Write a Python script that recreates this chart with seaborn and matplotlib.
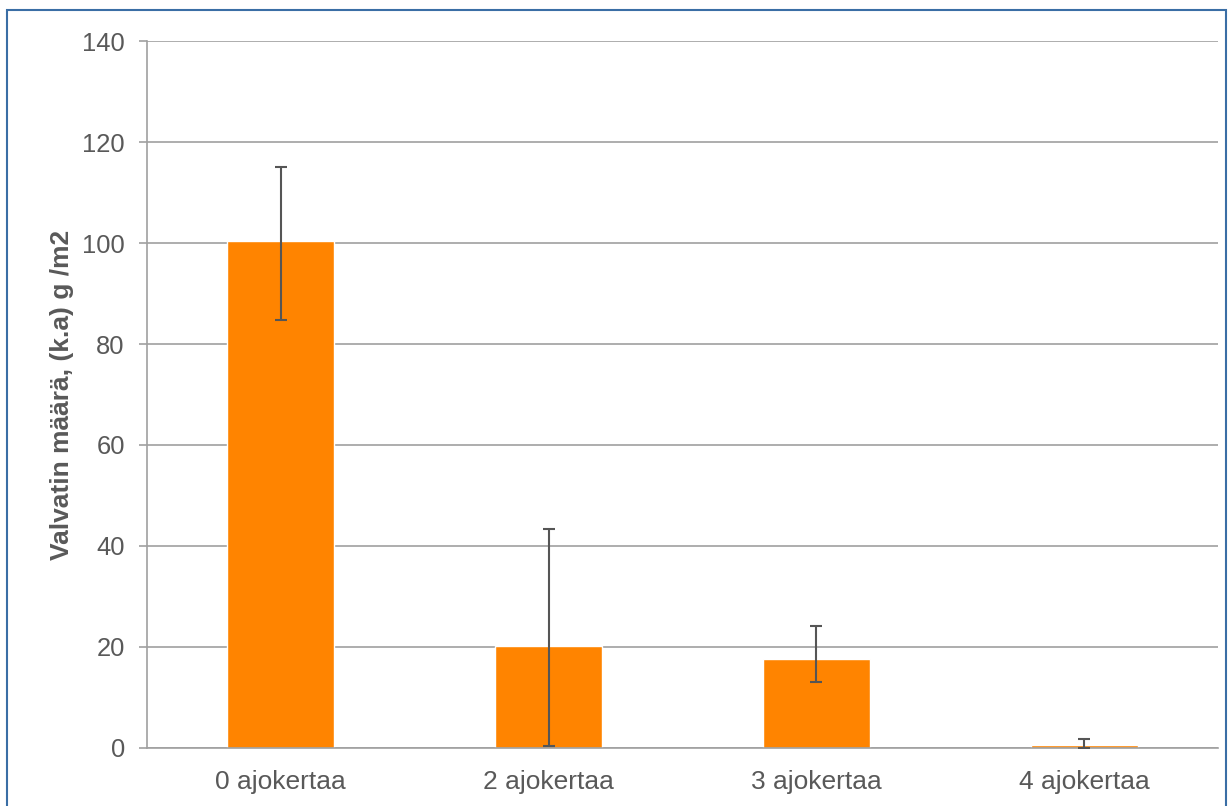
import pandas as pd
import matplotlib.pyplot as plt
import seaborn as sns
from matplotlib.patches import Rectangle

# data
categories = ['0 ajokertaa', '2 ajokertaa', '3 ajokertaa', '4 ajokertaa']
values = [100.3, 20.1, 17.6, 0.6]
err_low = [15.5, 19.7, 4.5, 0.6]
err_high = [14.7, 23.2, 6.6, 1.1]
y_ticks = [0, 20, 40, 60, 80, 100, 120, 140]

df = pd.DataFrame({'cat': categories, 'val': values})

sns.set_style('white')
plt.rcParams['font.family'] = ['Liberation Sans', 'DejaVu Sans']

fig = plt.figure(figsize=(12.32, 8.06), dpi=100)
ax = fig.add_axes([0.1193, 0.072, 0.8693, 0.8771])

sns.barplot(data=df, x='cat', y='val', color='#FF8400', width=0.4,
            saturation=1, errorbar=None, ax=ax, zorder=2)
ax.errorbar(range(len(values)), values, yerr=[err_low, err_high], fmt='none',
            ecolor='#555555', elinewidth=1.5, capsize=4.3, capthick=1.5, zorder=3)

ax.set_xlim(-0.5, len(categories) - 0.5)
ax.set_ylim(0, 140)
ax.set_yticks(y_ticks)
ax.yaxis.grid(True, color='#A0A0A0', linewidth=1.2, zorder=0)
ax.set_axisbelow(True)

# excel style: ticks between the categories
ax.set_xticks([i - 0.5 for i in range(len(categories) + 1)], minor=True)
ax.tick_params(axis='x', which='major', length=0, pad=16, labelsize=19, labelcolor='#595959')
ax.tick_params(axis='x', which='minor', length=6, width=1.2, color='#A0A0A0', direction='out')
ax.tick_params(axis='y', length=6, width=1.2, color='#A0A0A0', pad=10, labelsize=18.4,
               labelcolor='#595959', left=True)

for s in ['top', 'right']:
    ax.spines[s].set_visible(False)
for s in ['left', 'bottom']:
    ax.spines[s].set_color('#A0A0A0')
    ax.spines[s].set_linewidth(1.2)

ax.set_xlabel('')
ax.set_ylabel('Valvatin määrä, (k.a) g /m2', fontsize=19, fontweight='bold',
              color='#595959', labelpad=6)

# frame around the whole chart
fig.patches.append(Rectangle((0.0057, -0.02), 0.9893, 1.0076, transform=fig.transFigure,
                             fill=False, edgecolor='#3A6EA5', linewidth=1.5))

plt.savefig('out.png', dpi=100)
plt.close()
